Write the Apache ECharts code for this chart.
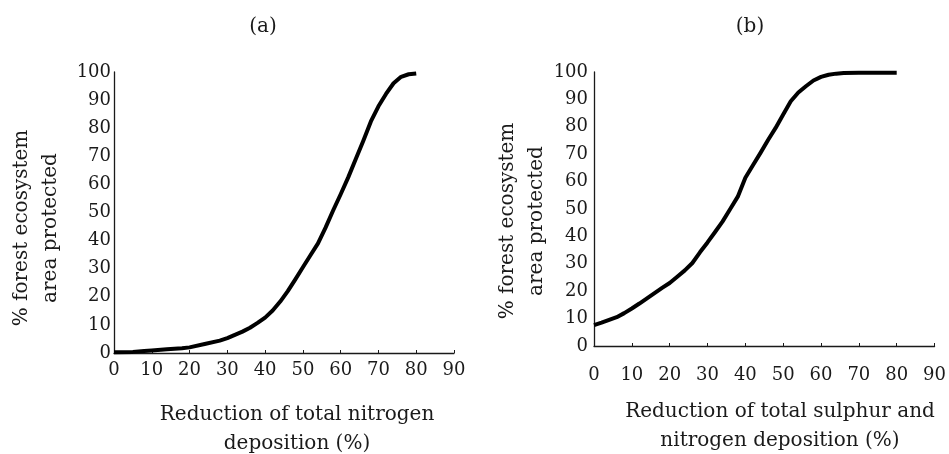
<!DOCTYPE html>
<html>
<head>
<meta charset="utf-8">
<script src="https://cdn.jsdelivr.net/npm/echarts@6/dist/echarts.min.js"></script>
<style>
  html, body { margin: 0; padding: 0; background: #fff; }
  #chart { width: 949px; height: 454px; }
</style>
</head>
<body>
<div id="chart"></div>
<script>
// panel (a): reduction of total nitrogen deposition (%)
const nitrogenX = [0, 5, 8, 10, 14, 18, 20, 24, 28, 30, 34, 36, 38, 40, 42, 44, 46, 48, 50, 52, 54, 56, 58, 60, 62, 64, 66, 68, 70, 72, 74, 76, 78, 80]
const nitrogenY = [0.3, 0.4, 0.7, 0.9, 1.3, 1.7, 2.0, 3.2, 4.4, 5.3, 7.6, 9.0, 10.7, 12.6, 15.1, 18.3, 22.0, 26.2, 30.5, 34.8, 39.0, 44.6, 50.7, 56.5, 62.5, 69.0, 75.5, 82.4, 87.8, 92.2, 96.0, 98.3, 99.2, 99.5]

// panel (b): reduction of total sulphur and nitrogen deposition (%)
const sulphurX = [0, 2, 4, 6, 8, 10, 12, 14, 16, 18, 20, 22, 24, 26, 28, 30, 32, 34, 36, 38, 40, 42, 44, 46, 48, 50, 52, 54, 56, 58, 60, 62, 64, 66, 70, 75, 80]
const sulphurY = [7.6, 8.5, 9.5, 10.5, 12.0, 13.7, 15.5, 17.4, 19.3, 21.2, 23.0, 25.3, 27.6, 30.3, 34.2, 37.8, 41.6, 45.5, 50.0, 54.5, 61.4, 66.0, 70.5, 75.2, 79.6, 84.5, 89.3, 92.5, 94.8, 96.9, 98.2, 99.0, 99.4, 99.6, 99.7, 99.7, 99.7]

const font = 'DejaVu Serif'
const ink = '#1a1a1a'

const pairs = (xs, ys) => xs.map((x, i) => [x, ys[i]])

const axisLine = {show: true, lineStyle: {color: ink, width: 1.3}}

function xAxisFor (grid, margin) {
  return {
    type: 'value',
    gridIndex: grid,
    min: 0,
    max: 90,
    interval: 10,
    axisLine: axisLine,
    axisTick: {show: true, inside: true, length: 3, lineStyle: {color: ink}},
    splitLine: {show: false},
    axisLabel: {color: ink, fontFamily: font, fontSize: 18, margin: margin}
  }
}

function yAxisFor (grid, margin) {
  return {
    type: 'value',
    gridIndex: grid,
    min: 0,
    max: 100,
    interval: 10,
    axisLine: axisLine,
    axisTick: {show: false},
    splitLine: {show: false},
    axisLabel: {color: ink, fontFamily: font, fontSize: 18, margin: margin}
  }
}

function label (text, x, y, rotate) {
  return {
    type: 'text',
    x: x,
    y: y,
    rotation: rotate ? Math.PI / 2 : 0,
    style: {
      text: text,
      align: 'center',
      verticalAlign: 'middle',
      fontFamily: font,
      fontSize: 20,
      lineHeight: 29,
      fill: ink
    }
  }
}

const chart = echarts.init(document.getElementById('chart'))
chart.setOption({
  animation: false,
  grid: [
    {left: 114, right: 495, top: 72, bottom: 101},
    {left: 594, right: 11, top: 72, bottom: 108}
  ],
  xAxis: [xAxisFor(0, 8), xAxisFor(1, 20)],
  yAxis: [yAxisFor(0, 3), yAxisFor(1, 6)],
  graphic: [
    label('(a)', 263, 27),
    label('(b)', 750, 27),
    label('% forest ecosystem\narea protected', 36, 228, true),
    label('% forest ecosystem\narea protected', 522, 221, true),
    label('Reduction of total nitrogen\ndeposition (%)', 297, 429),
    label('Reduction of total sulphur and\nnitrogen deposition (%)', 780, 426)
  ],
  series: [
    {
      type: 'line',
      xAxisIndex: 0,
      yAxisIndex: 0,
      data: pairs(nitrogenX, nitrogenY),
      showSymbol: false,
      lineStyle: {color: '#000', width: 4, join: 'round'}
    },
    {
      type: 'line',
      xAxisIndex: 1,
      yAxisIndex: 1,
      data: pairs(sulphurX, sulphurY),
      showSymbol: false,
      lineStyle: {color: '#000', width: 4, join: 'round'}
    }
  ]
})
</script>
</body>
</html>
